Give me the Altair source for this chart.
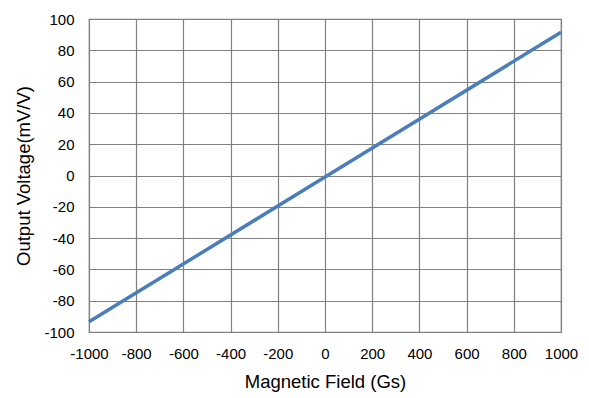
import altair as alt
import pandas as pd

field = [-1000, 0, 1000]
voltage = [-93.5, -1.0, 91.5]

df = pd.DataFrame({"field": field, "voltage": voltage})

x_ticks = list(range(-1000, 1001, 200))
y_ticks = list(range(-100, 101, 20))

common = dict(ticks=False, labelFontSize=15, titleFontSize=18.5, titleFontWeight="normal",
              labelFont="Liberation Sans", titleFont="Liberation Sans",
              labelColor="#000", titleColor="#000",
              gridColor="#808080", gridWidth=1.2, domain=False,
              labelFlush=False, labelExpr="'' + datum.value")

chart = alt.Chart(df).mark_line(color="#4a7ebb", strokeWidth=3.5).encode(
    x=alt.X("field:Q", scale=alt.Scale(domain=[-1000, 1000], nice=False),
            axis=alt.Axis(values=x_ticks, title="Magnetic Field (Gs)",
                          labelPadding=14, titlePadding=11, **common)),
    y=alt.Y("voltage:Q", scale=alt.Scale(domain=[-100, 100], nice=False),
            axis=alt.Axis(values=y_ticks, title="Output Voltage(mV/V)",
                          labelPadding=15, titlePadding=10, **common)),
).properties(
    width=472, height=313,
    autosize=alt.AutoSizeParams(type="none"),
    padding={"left": 81, "top": 11, "right": 20, "bottom": 66},
).configure_view(stroke="#808080", strokeWidth=1.2)

chart.save("out.html", embed_options={"renderer": "svg", "actions": False})
